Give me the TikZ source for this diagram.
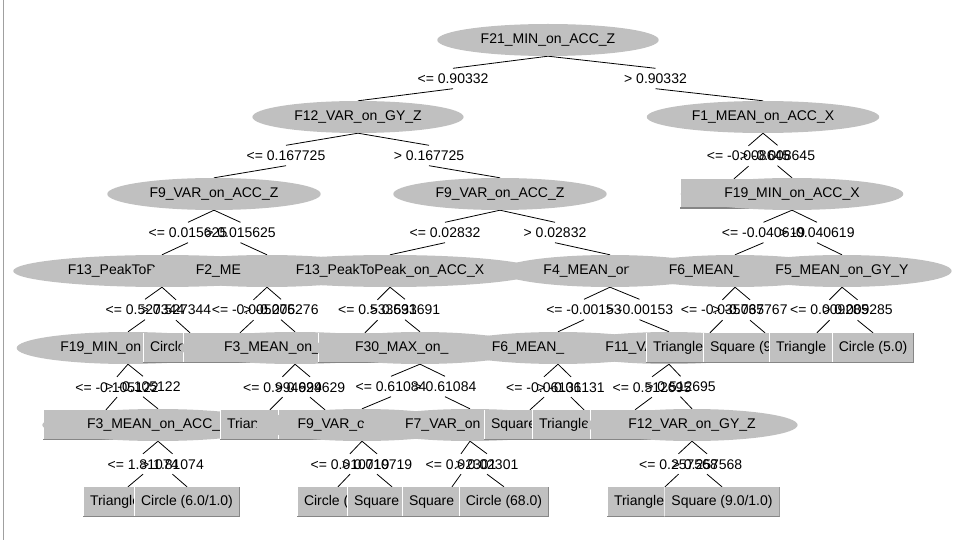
\documentclass[tikz,border=0pt]{standalone}
\usepackage{fontspec}
\setmainfont{Liberation Sans}
\usetikzlibrary{shapes.geometric,calc,backgrounds}
\definecolor{lg}{RGB}{192,192,192}
\definecolor{dkg}{RGB}{134,134,134}
\definecolor{brd}{RGB}{160,160,160}
\newcommand{\fsz}{\fontsize{14}{16}\selectfont}
\newcommand{\tedge}[3]{%
  \node[lbl] (L#1-#2) at ($(#1.south)!0.5!(#2.north)$) {#3};
  \draw[edge] (#1.south) -- (L#1-#2.north);
  \draw[edge] (L#1-#2.south) -- (#2.north);
}
\tikzset{
  ell/.style={ellipse, fill=lg, inner xsep=11pt, inner ysep=2pt, minimum height=32pt,
    text height=10.5pt, text depth=3pt, font=\fsz},
  leaf/.style={rectangle, fill=lg, inner xsep=7pt, inner ysep=0pt, minimum height=30pt,
    text height=10.5pt, text depth=3pt, font=\fsz,
    path picture={
      \fill[white] (path picture bounding box.north west) rectangle ([xshift=1pt]path picture bounding box.south west);
      \fill[dkg] ([yshift=1.5pt]path picture bounding box.south west) rectangle (path picture bounding box.south east);
      \fill[dkg] ([xshift=-1pt]path picture bounding box.north east) rectangle (path picture bounding box.south east);}},
  lbl/.style={inner xsep=0pt, inner ysep=5pt, text height=10pt, text depth=0pt, font=\fsz},
  edge/.style={draw=black, line width=0.8pt}
}
\begin{document}
\begin{tikzpicture}[x=1pt,y=-1pt]
\useasboundingbox (0,0) rectangle (967,540);
\draw[brd, line width=1pt] (3,0) -- (3,540);
% level 0-2
\node[ell] (R) at (548,40) {F21\_MIN\_on\_ACC\_Z};
\node[ell] (F12) at (358,117) {F12\_VAR\_on\_GY\_Z};
\node[ell] (F1) at (763,117) {F1\_MEAN\_on\_ACC\_X};
\node[ell] (F9L) at (214,194) {F9\_VAR\_on\_ACC\_Z};
\node[ell] (F9R) at (500,194) {F9\_VAR\_on\_ACC\_Z};
\node[leaf, minimum width=108pt] (LX) at (734,194) {};
\node[ell] (F19) at (792,194) {F19\_MIN\_on\_ACC\_X};
% level 3
\node[ell] (A) at (162,271) {F13\_PeakToP\phantom{eak\_on\_ACC\_X}};
\node[ell] (B) at (267,271) {F2\_ME\phantom{AN\_on\_ACC\_Y}};
\node[ell] (C) at (390,271) {F13\_PeakToPeak\_on\_ACC\_X};
\node[ell] (D) at (610,271) {F4\_MEAN\_on\phantom{\_GY\_X}};
\node[ell] (E) at (735,271) {F6\_MEAN\_\phantom{on\_GY\_Z}};
\node[ell] (F) at (842,271) {F5\_MEAN\_on\_GY\_Y};
% level 4
\node[ell] (a1) at (128,348) {F19\_MIN\_on\phantom{\_ACC\_X}};
\node[leaf] (a2) at (190,348) {\makebox[80pt][l]{Circle}};
\node[leaf, minimum width=114pt] (b1) at (240,348) {};
\node[ell] (b2) at (295,348) {F3\_MEAN\_on\_\phantom{ACC\_Z}};
\node[leaf, minimum width=94pt] (c1) at (365,348) {};
\node[ell] (c2) at (420,348) {F30\_MAX\_on\_\phantom{GY\_Z}};
\node[ell] (d1) at (558,348) {F6\_MEAN\_\phantom{on\_GY\_Z}};
\node[ell] (d2) at (669,348) {F11\_VA\phantom{R\_on\_GY\_Y}};
\node[leaf] (e1) at (710,348) {\makebox[114pt][l]{Triangle}};
\node[leaf] (e2) at (765,348) {\makebox[110pt][l]{Square (9}};
\node[leaf] (f1) at (817,348) {\makebox[82pt][l]{Triangle}};
\node[leaf] (f2) at (873,348) {Circle (5.0)};
% level 5
\node[leaf, minimum width=126pt] (h1) at (106,425) {};
\node[ell] (g1) at (158,425) {F3\_MEAN\_on\_ACC\_\phantom{Z}};
\node[leaf] (i1) at (270,425) {\makebox[86pt][l]{Trian}};
\node[leaf, minimum width=94pt] (i2) at (325,425) {};
\node[ell] (j1) at (362,425) {F9\_VAR\_o\phantom{n\_ACC\_Z}};
\node[ell] (j2) at (470,425) {F7\_VAR\_on\phantom{\_ACC\_X}};
\node[leaf] (k1) at (530,425) {\makebox[78pt][l]{Square}};
\node[leaf] (k2) at (584,425) {\makebox[90pt][l]{Triangle}};
\node[leaf, minimum width=90pt] (l1) at (635,425) {};
\node[ell] (l2) at (692,425) {F12\_VAR\_on\_GY\_Z};
% level 6
\node[leaf] (m1) at (128,502) {\makebox[76pt][l]{Triangle}};
\node[leaf] (m2) at (187,502) {Circle (6.0/1.0)};
\node[leaf] (n1) at (338,502) {\makebox[68pt][l]{Circle (}};
\node[leaf] (n2) at (392,502) {\makebox[76pt][l]{Square}};
\node[leaf] (o1) at (452,502) {\makebox[86pt][l]{Square}};
\node[leaf] (o2) at (504,502) {Circle (68.0)};
\node[leaf] (p1) at (665,502) {\makebox[102pt][l]{Triangle}};
\node[leaf] (p2) at (722,502) {Square (9.0/1.0)};
\begin{scope}[on background layer]
\tedge{R}{F12}{<= 0.90332}
\tedge{R}{F1}{> 0.90332}
\tedge{F12}{F9L}{<= 0.167725}
\tedge{F12}{F9R}{> 0.167725}
\tedge{F1}{LX}{<= -0.008645}
\tedge{F1}{F19}{> -0.008645}
\tedge{F9L}{A}{<= 0.015625}
\tedge{F9L}{B}{> 0.015625}
\tedge{F9R}{C}{<= 0.02832}
\tedge{F9R}{D}{> 0.02832}
\tedge{F19}{E}{<= -0.040619}
\tedge{F19}{F}{> -0.040619}
\tedge{A}{a1}{<= 0.527344}
\tedge{A}{a2}{> 0.527344}
\tedge{B}{b1}{<= -0.005276}
\tedge{B}{b2}{> -0.005276}
\tedge{C}{c1}{<= 0.533691}
\tedge{C}{c2}{> 0.533691}
\tedge{D}{d1}{<= -0.00153}
\tedge{D}{d2}{> -0.00153}
\tedge{E}{e1}{<= -0.035767}
\tedge{E}{e2}{> -0.035767}
\tedge{F}{f1}{<= 0.009285}
\tedge{F}{f2}{> 0.009285}
\tedge{a1}{h1}{<= -0.105122}
\tedge{a1}{g1}{> -0.105122}
\tedge{b2}{i1}{<= 0.994629}
\tedge{b2}{i2}{> 0.994629}
\tedge{c2}{j1}{<= 0.61084}
\tedge{c2}{j2}{> 0.61084}
\tedge{d1}{k1}{<= -0.06131}
\tedge{d1}{k2}{> -0.06131}
\tedge{d2}{l1}{<= 0.512695}
\tedge{d2}{l2}{> 0.512695}
\tedge{g1}{m1}{<= 1.81074}
\tedge{g1}{m2}{> 1.81074}
\tedge{j1}{n1}{<= 0.010719}
\tedge{j1}{n2}{> 0.010719}
\tedge{j2}{o1}{<= 0.02301}
\tedge{j2}{o2}{> 0.02301}
\tedge{l2}{p1}{<= 0.257568}
\tedge{l2}{p2}{> 0.257568}
\end{scope}
\end{tikzpicture}
\end{document}
